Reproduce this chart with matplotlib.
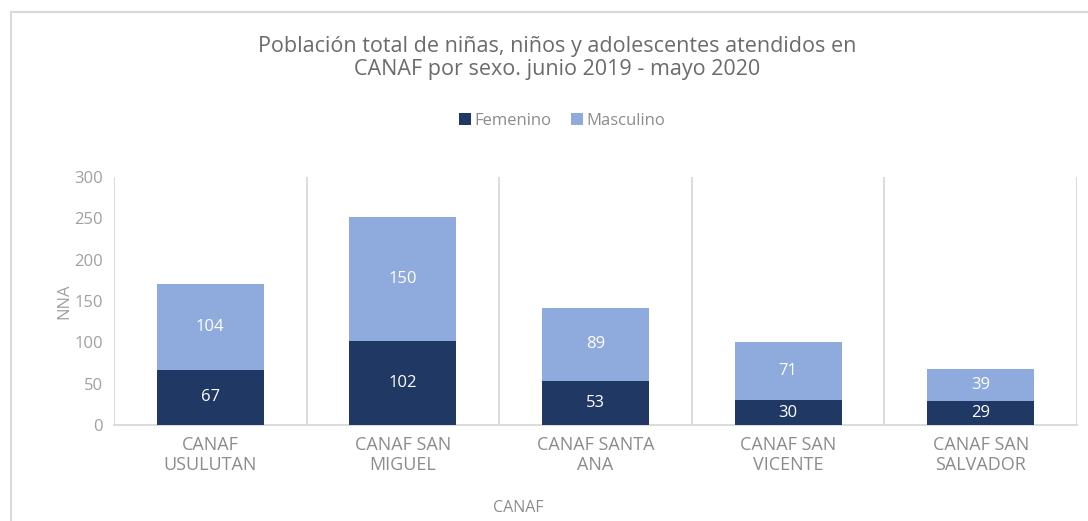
import numpy as np
import matplotlib
matplotlib.use("Agg")
import matplotlib.pyplot as plt
from matplotlib.lines import Line2D

# data
centros = ["CANAF\nUSULUTAN", "CANAF SAN\nMIGUEL", "CANAF SANTA\nANA",
           "CANAF SAN\nVICENTE", "CANAF SAN\nSALVADOR"]
femenino = [67, 102, 53, 30, 29]
masculino = [104, 150, 89, 71, 39]

col_fem = "#203864"
col_mas = "#8faadc"
gris = "#6b6b6b"
gris_claro = "#d9d9d9"

plt.rcParams['font.family'] = ['Open Sans', 'DejaVu Sans']

fig = plt.figure(figsize=(10.88, 5.21), dpi=100)
ax = fig.add_axes([114/1088, 1-425/521, 963/1088, 248/521])

x = np.arange(len(centros))
w = 0.555
b1 = ax.bar(x, femenino, w, color=col_fem, label="Femenino", zorder=3)
b2 = ax.bar(x, masculino, w, bottom=femenino, color=col_mas, label="Masculino", zorder=3)
ax.bar_label(b1, label_type="center", color="white", fontsize=12)
ax.bar_label(b2, label_type="center", color="white", fontsize=12)

ax.set_xlim(-0.5, len(centros)-0.5)
ax.set_ylim(0, 300)
ax.set_yticks(range(0, 301, 50))
ax.set_xticks(x)
ax.set_xticklabels(centros, color="#8c8c8c", fontsize=13, linespacing=1.15)
ax.set_xticks(np.arange(-0.5, len(centros), 1), minor=True)
ax.grid(which="minor", axis="x", color=gris_claro, lw=1.3, zorder=0)
ax.grid(which="major", axis="x", visible=False)
ax.tick_params(axis="x", which="both", length=0, pad=8)
ax.tick_params(axis="y", length=0, labelsize=12, labelcolor="#a0a0a0", pad=8)
for s in ["top", "right", "left"]:
    ax.spines[s].set_visible(False)
ax.spines["bottom"].set_color(gris_claro)
ax.spines["bottom"].set_linewidth(1.3)

ax.set_ylabel("NNA", color="#a0a0a0", fontsize=12)
ax.yaxis.set_label_coords(-0.043, 0.5)

fig.text(518/1088, 1-508/521, "CANAF", ha="center", va="center", color="#8c8c8c", fontsize=11.5)

fig.text(557/1088, 1-58/521,
         "Población total de niñas, niños y adolescentes atendidos en\nCANAF por sexo. junio 2019 - mayo 2020",
         ha="center", va="center", color=gris, fontsize=15.5, linespacing=1.1)

fig.legend(handles=[b1, b2], loc="center", bbox_to_anchor=(562/1088, 1-121/521), ncol=2,
           frameon=False, fontsize=12, handlelength=0.7, handleheight=0.7, handletextpad=0.2,
           columnspacing=1.2, labelcolor="#8c8c8c")

# marco
fig.add_artist(Line2D([11/1088, 11/1088], [0, 1-12/521], color=gris_claro, lw=1.5, transform=fig.transFigure))
fig.add_artist(Line2D([11/1088, 1], [1-12/521, 1-12/521], color=gris_claro, lw=1.5, transform=fig.transFigure))

fig.savefig("out.png", dpi=100)
